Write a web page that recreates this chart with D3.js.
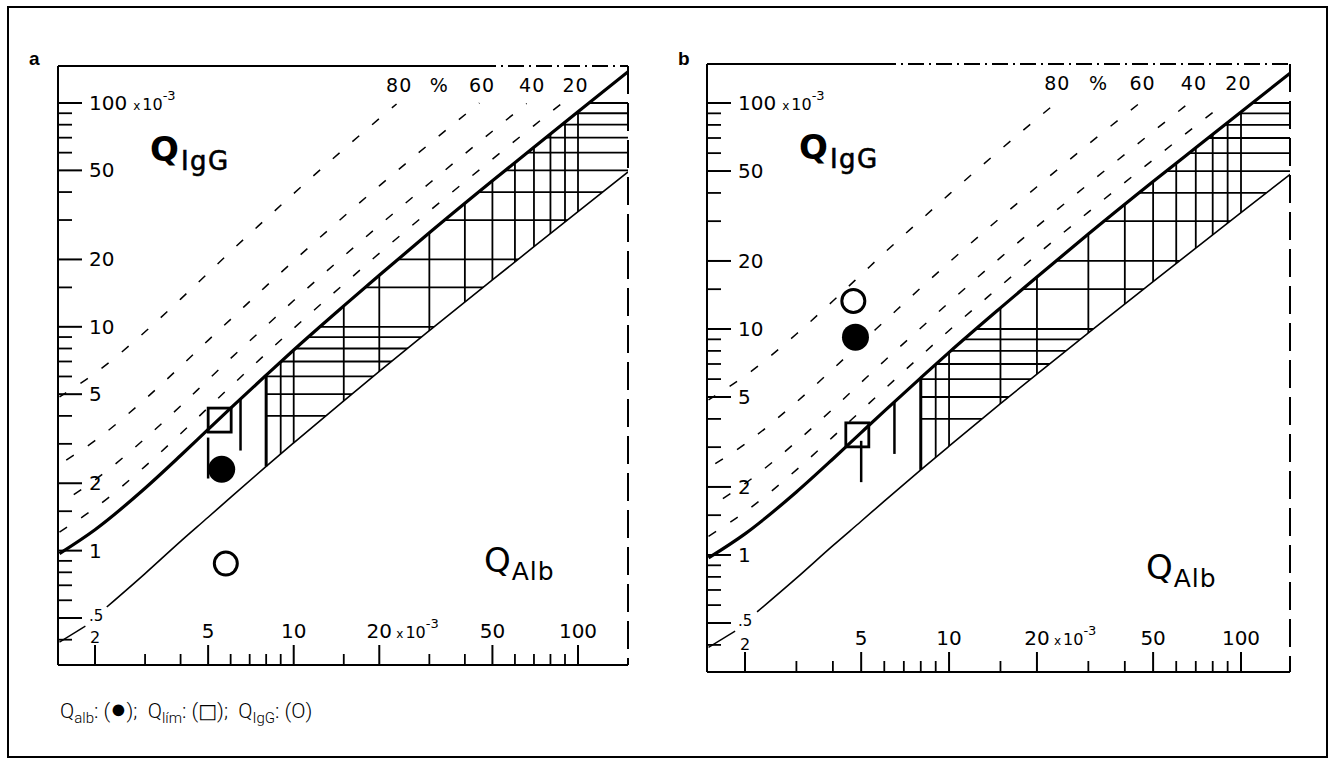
<!DOCTYPE html>
<meta charset="utf-8">
<style>
body { margin: 0; background: #fff; }
text { font-family: "DejaVu Sans", sans-serif; fill: #000; }
.panel-label { font-family: "Liberation Sans", Arial, sans-serif; font-weight: bold; font-size: 19px; }
.legend { font-family: Roboto, "Liberation Sans", sans-serif; font-weight: 300; font-size: 21px; fill: #000; white-space: pre; }
</style>
<body>
<script src="https://d3js.org/d3.v7.min.js"></script>
<script>

// Q_Alb (x 10^-3) and Q_IgG (x 10^-3)

// upper reference line (Q_lim, thick curve)
var limAlb = [1.5, 2, 3, 4, 5, 6, 8, 10, 15, 20, 30, 50, 70, 100, 150];
var limIgG = [0.97, 1.24, 1.9, 2.66, 3.48, 4.33, 6.08, 7.88, 12.4, 17.0, 26.3, 44.9, 63.4, 91.3, 138];

// lower reference line
var lowAlb = [2.2, 3, 4, 5, 6, 8, 10, 15, 20, 30, 50, 70, 100, 150];
var lowIgG = [0.56, 0.79, 1.1, 1.41, 1.73, 2.38, 3.03, 4.67, 6.32, 9.61, 16.2, 22.8, 32.7, 49.2];

// intrathecal fraction lines (dashed), 20 / 40 / 60 / 80 %
var if20Alb = [1.5, 2, 3, 4, 5, 6, 8, 10, 15, 20, 30, 50, 70, 88];
var if20IgG = [1.21, 1.55, 2.38, 3.33, 4.35, 5.41, 7.6, 9.85, 15.5, 21.3, 32.9, 56.1, 79.3, 100];
var if40Alb = [1.5, 2, 3, 4, 5, 6, 8, 10, 15, 20, 30, 50, 66];
var if40IgG = [1.62, 2.07, 3.17, 4.43, 5.8, 7.22, 10.1, 13.1, 20.7, 28.4, 43.8, 74.8, 99.5];
var if60Alb = [1.5, 2, 3, 4, 5, 6, 8, 10, 15, 20, 30, 45];
var if60IgG = [2.43, 3.1, 4.75, 6.65, 8.7, 10.8, 15.2, 19.7, 31.1, 42.6, 65.7, 100];
var if80Alb = [1.5, 2, 3, 4, 5, 6, 8, 10, 15, 20, 23];
var if80IgG = [4.86, 6.2, 9.5, 13.3, 17.4, 21.7, 30.4, 39.4, 62.2, 85.2, 99];
var ifLabels = ["80", "%", "60", "40", "20"];
var ifLabelAlb = [23.5, 32.5, 46, 69, 98];

// hatched grid between the reference lines (from Q_Alb = 8)
var hatchAlb = [9, 10, 15, 20, 30, 40, 50, 60, 70, 80, 90, 100];
var hatchIgG = [4, 5, 6, 7, 8, 9, 10, 15, 20, 30, 40, 50, 60, 70, 80, 90, 100];
var hatchStartAlb = 8;

// age related Q_Alb limit marks (partial in the scan)
var ageAlb = [5, 6.5];
var ageTop = [3.2, 4.8];
var ageBottom = [2.1, 2.8];

// axis ticks
var xMajor = [2, 5, 10, 20, 50, 100];
var xMajorLabels = ["2", "5", "10", "20", "50", "100"];
var xMinor = [3, 4, 6, 7, 8, 9, 15, 30, 40, 60, 70, 80, 90];
var yMajor = [0.5, 1, 2, 5, 10, 20, 50, 100];
var yMajorLabels = [".5", "1", "2", "5", "10", "20", "50", "100"];
var yMinor = [0.4, 0.6, 0.7, 0.8, 0.9, 1.5, 3, 4, 6, 7, 8, 9, 15, 30, 40, 60, 70, 80, 90];

// patient points: Q_alb (filled), Q_lim (square), Q_IgG (open)
var markerKinds = ["alb", "lim", "igg"];
var panelAAlb = [5.58, 5.49, 5.77];
var panelAIgG = [2.31, 3.83, 0.875];
var panelBAlb = [4.78, 4.85, 4.7];
var panelBIgG = [9.2, 3.4, 13.3];

var W = 1335, H = 764;
var svg = d3.select("body").append("svg")
  .attr("width", W)
  .attr("height", H);

// outer box
svg.append("rect")
  .attr("x", 8).attr("y", 7)
  .attr("width", 1319).attr("height", 750)
  .attr("fill", "none")
  .attr("stroke", "#000")
  .attr("stroke-width", 2);

var panels = [
  {id: "a", alb: panelAAlb, igg: panelAIgG,
   xr: [95, 578], yr: [618, 103], left: 58, top: 66, right: 628, bottom: 665,
   labelX: 29, solidTo: 480},
  {id: "b", alb: panelBAlb, igg: panelBIgG,
   xr: [745, 1241], yr: [623, 103], left: 707, top: 64, right: 1290, bottom: 672,
   labelX: 678, solidTo: 880}
];

function zip(a, b) {
  return a.map(function(v, i) { return [v, b[i]]; });
}

panels.forEach(function(p) {
  var g = svg.append("g");
  var x = d3.scaleLog().domain([2, 100]).range(p.xr);
  var y = d3.scaleLog().domain([0.5, 100]).range(p.yr);

  var line = d3.line()
    .x(function(d) { return x(d[0]); })
    .y(function(d) { return y(d[1]); })
    .curve(d3.curveMonotoneX);

  // clip to the frame
  g.append("clipPath").attr("id", "frame-" + p.id)
    .append("rect")
      .attr("x", p.left).attr("y", p.top)
      .attr("width", p.right - p.left).attr("height", p.bottom - p.top);

  var plot = g.append("g").attr("clip-path", "url(#frame-" + p.id + ")");

  // hatched region between the curves
  var limPart = zip(limAlb, limIgG).filter(function(d) { return d[0] >= hatchStartAlb; });
  var lowPart = zip(lowAlb, lowIgG).filter(function(d) { return d[0] >= hatchStartAlb; });
  var band = limPart.map(function(d, i) { return [d[0], lowPart[i][1], d[1]]; });
  var area = d3.area()
    .x(function(d) { return x(d[0]); })
    .y0(function(d) { return y(d[1]); })
    .y1(function(d) { return y(d[2]); })
    .curve(d3.curveMonotoneX);
  g.append("clipPath").attr("id", "hatch-" + p.id)
    .append("path").attr("d", area(band));

  var hatch = plot.append("g").attr("clip-path", "url(#hatch-" + p.id + ")")
    .attr("stroke", "#000").attr("stroke-width", 1.8);
  hatch.selectAll(".hv").data(hatchAlb).enter().append("line")
    .attr("x1", function(d) { return x(d); }).attr("x2", function(d) { return x(d); })
    .attr("y1", p.top).attr("y2", p.bottom);
  hatch.selectAll(".hh").data(hatchIgG).enter().append("line")
    .attr("y1", function(d) { return y(d); }).attr("y2", function(d) { return y(d); })
    .attr("x1", p.left).attr("x2", p.right);

  // thick vertical at Q_Alb = 8
  plot.append("line")
    .attr("x1", x(hatchStartAlb)).attr("x2", x(hatchStartAlb))
    .attr("y1", y(limIgG[limAlb.indexOf(hatchStartAlb)]))
    .attr("y2", y(lowIgG[lowAlb.indexOf(hatchStartAlb)]))
    .attr("stroke", "#000").attr("stroke-width", 3);

  // age limit marks
  plot.selectAll(".age").data(ageAlb).enter().append("line")
    .attr("x1", function(d) { return x(d); }).attr("x2", function(d) { return x(d); })
    .attr("y1", function(d, i) { return y(ageTop[i]); })
    .attr("y2", function(d, i) { return y(ageBottom[i]); })
    .attr("stroke", "#000").attr("stroke-width", 2.5);

  // intrathecal fraction lines
  [[if20Alb, if20IgG], [if40Alb, if40IgG], [if60Alb, if60IgG], [if80Alb, if80IgG]]
    .forEach(function(s, i) {
      plot.append("path")
        .attr("d", line(zip(s[0], s[1])))
        .attr("fill", "none")
        .attr("stroke", "#000")
        .attr("stroke-width", 1.5)
        .attr("stroke-dasharray", "9,17")
        .attr("stroke-dashoffset", i * 9);
    });

  // lower and upper reference curves
  plot.append("path")
    .attr("d", line(zip(lowAlb, lowIgG)))
    .attr("fill", "none").attr("stroke", "#000").attr("stroke-width", 1.6);
  plot.append("path")
    .attr("d", line(zip(limAlb, limIgG)))
    .attr("fill", "none").attr("stroke", "#000").attr("stroke-width", 3.2);

  // frame
  var fr = g.append("g").attr("stroke", "#000").attr("fill", "none");
  fr.append("line").attr("x1", p.left).attr("x2", p.left)
    .attr("y1", p.top).attr("y2", p.bottom).attr("stroke-width", 2);
  fr.append("line").attr("x1", p.left).attr("x2", p.right)
    .attr("y1", p.bottom).attr("y2", p.bottom).attr("stroke-width", 2.2);
  fr.append("line").attr("x1", p.left).attr("x2", p.solidTo)
    .attr("y1", p.top).attr("y2", p.top).attr("stroke-width", 2);
  fr.append("line").attr("x1", p.solidTo).attr("x2", p.right)
    .attr("y1", p.top).attr("y2", p.top).attr("stroke-width", 2)
    .attr("stroke-dasharray", "16,5,2,5");
  fr.append("line").attr("x1", p.right).attr("x2", p.right)
    .attr("y1", p.top).attr("y2", p.bottom).attr("stroke-width", 2)
    .attr("stroke-dasharray", "28,9");

  // y ticks (drawn inward from the left edge)
  fr.selectAll(".ymaj").data(yMajor).enter().append("line")
    .attr("x1", p.left).attr("x2", p.left + 24)
    .attr("y1", function(d) { return y(d); }).attr("y2", function(d) { return y(d); })
    .attr("stroke-width", 2);
  fr.selectAll(".ymin").data(yMinor).enter().append("line")
    .attr("x1", p.left).attr("x2", p.left + 14)
    .attr("y1", function(d) { return y(d); }).attr("y2", function(d) { return y(d); })
    .attr("stroke-width", 1.8);

  // x ticks (upward from the bottom edge)
  fr.selectAll(".xmaj").data(xMajor).enter().append("line")
    .attr("x1", function(d) { return x(d); }).attr("x2", function(d) { return x(d); })
    .attr("y1", p.bottom).attr("y2", p.bottom - 20)
    .attr("stroke-width", 2);
  fr.selectAll(".xmin").data(xMinor).enter().append("line")
    .attr("x1", function(d) { return x(d); }).attr("x2", function(d) { return x(d); })
    .attr("y1", p.bottom).attr("y2", p.bottom - 11)
    .attr("stroke-width", 1.8);

  // small pointer in the corner
  fr.append("line")
    .attr("x1", x(1.85)).attr("y1", y(0.46))
    .attr("x2", x(1.5)).attr("y2", y(0.39))
    .attr("stroke-width", 1.4);

  // y labels
  yMajor.forEach(function(v, i) {
    var small = v === 0.5;
    var t = g.append("text")
      .attr("x", p.left + 31)
      .attr("y", y(v) + (small ? 3 : 7))
      .style("font-size", small ? "15px" : "20px");
    t.append("tspan").text(yMajorLabels[i]);
    if (v === 100) {
      t.append("tspan").attr("dx", 6).style("font-size", "12px").text("x");
      t.append("tspan").attr("dx", 2).style("font-size", "16px").text("10");
      t.append("tspan").attr("dy", -10).style("font-size", "13px").text("-3");
    }
  });

  // x labels
  xMajor.forEach(function(v, i) {
    var small = v === 2;
    g.append("text")
      .attr("x", x(v))
      .attr("y", p.bottom - (small ? 22 : 27))
      .attr("text-anchor", "middle")
      .style("font-size", small ? "16px" : "20px")
      .text(xMajorLabels[i]);
    if (v === 20) {
      var t = g.append("text")
        .attr("x", x(v) + 17)
        .attr("y", p.bottom - 27);
      t.append("tspan").style("font-size", "12px").text("x");
      t.append("tspan").attr("dx", 2).style("font-size", "16px").text("10");
      t.append("tspan").attr("dy", -10).style("font-size", "13px").text("-3");
    }
  });

  // percentage labels along the top
  ifLabels.forEach(function(s, i) {
    g.append("text")
      .attr("x", x(ifLabelAlb[i]))
      .attr("y", p.top + 26)
      .attr("text-anchor", "middle")
      .style("font-size", "19px")
      .style("letter-spacing", "1px")
      .text(s);
  });

  // axis titles
  var qi = g.append("text")
    .attr("x", p.left + 92)
    .attr("y", p.top + 95);
  qi.append("tspan").style("font-size", "34px").style("font-weight", "bold").text("Q");
  qi.append("tspan").attr("dy", 9).attr("dx", 2)
    .style("font-size", "26px").style("letter-spacing", "1.5px")
    .style("stroke", "#000").style("stroke-width", 0.6).text("IgG");

  var qa = g.append("text")
    .attr("x", p.right - 144)
    .attr("y", p.bottom - 93);
  qa.append("tspan").style("font-size", "34px").text("Q");
  qa.append("tspan").attr("dy", 8).attr("dx", 1)
    .style("font-size", "25px").style("letter-spacing", "1px").text("Alb");

  // markers
  var pts = markerKinds.map(function(k, i) { return {kind: k, alb: p.alb[i], igg: p.igg[i]}; });
  pts.forEach(function(d) {
    var cx = x(d.alb), cy = y(d.igg);
    if (d.kind === "alb") {
      g.append("circle").attr("cx", cx).attr("cy", cy).attr("r", 13.5).attr("fill", "#000");
    } else if (d.kind === "igg") {
      g.append("circle").attr("cx", cx).attr("cy", cy).attr("r", 11.5)
        .attr("fill", "none").attr("stroke", "#000").attr("stroke-width", 3);
    } else {
      g.append("rect").attr("x", cx - 11.5).attr("y", cy - 12).attr("width", 23).attr("height", 24)
        .attr("fill", "none").attr("stroke", "#000").attr("stroke-width", 2.8);
    }
  });

  // panel letter
  svg.append("text")
    .attr("class", "panel-label")
    .attr("x", p.labelX)
    .attr("y", 65)
    .text(p.id);
});

// legend
var lg = svg.append("text").attr("class", "legend").attr("x", 60).attr("y", 718)
  .attr("xml:space", "preserve");
lg.append("tspan").text("Q");
lg.append("tspan").attr("dy", 5).style("font-size", "15px").text("alb");
lg.append("tspan").attr("dy", -5).text(": (");
lg.append("tspan").style("font-family", "DejaVu Sans").style("font-size", "27px").text("\u25CF");
lg.append("tspan").text(");  Q");
lg.append("tspan").attr("dy", 5).style("font-size", "15px").text("lím");
lg.append("tspan").attr("dy", -5).text(": (");
lg.append("tspan").style("font-family", "DejaVu Sans").style("font-size", "20px").style("font-weight", "bold").text("\u25A1");
lg.append("tspan").text(");  Q");
lg.append("tspan").attr("dy", 5).style("font-size", "15px").text("IgG");
lg.append("tspan").attr("dy", -5).text(": (O)");

</script>
</body>
